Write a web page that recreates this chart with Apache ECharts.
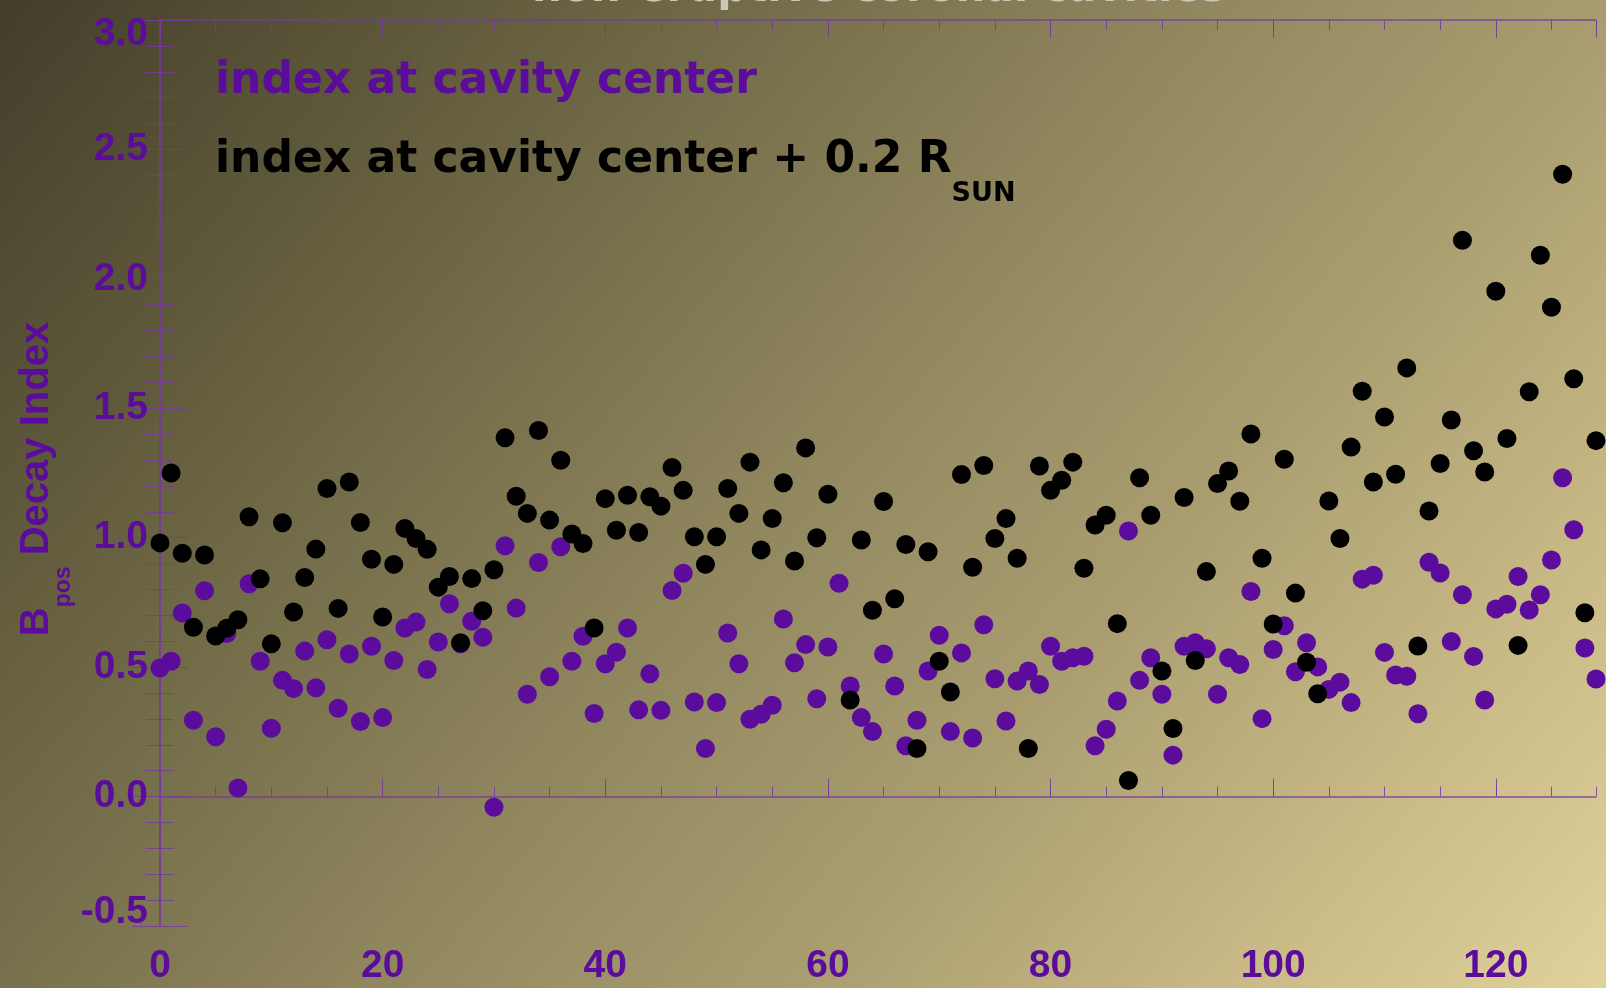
<!DOCTYPE html>
<html>
<head>
<meta charset="utf-8">
<script src="https://cdn.jsdelivr.net/npm/echarts@6/dist/echarts.min.js"></script>
<style>
html,body{margin:0;padding:0;width:1606px;height:988px;overflow:hidden;}
#c{width:1606px;height:988px;background:linear-gradient(130deg,#433e2a 0%,#5d573a 17%,#77704c 33.5%,#928860 50%,#a99d70 66.5%,#c6b784 83%,#e0d29b 100%);}
</style>
</head>
<body>
<div id="c"></div>
<script>
// ---- data ----
const titleText = 'non-eruptive coronal cavities';
const seriesNames = ['index at cavity center', 'index at cavity center + 0.2 RSUN'];
const xTickLabels = ['0', '20', '40', '60', '80', '100', '120'];

// value at x = 0, 1, 2, ... 129
const centerIndex = [
  0.497,0.523,0.709,0.295,0.795,0.231,0.63,0.033,0.822,0.523,
  0.264,0.449,0.417,0.562,0.42,0.606,0.341,0.551,0.29,0.581,
  0.305,0.526,0.651,0.674,0.491,0.597,0.745,0.59,0.677,0.615,
  -0.041,0.969,0.728,0.395,0.904,0.463,0.965,0.523,0.619,0.321,
  0.513,0.558,0.651,0.335,0.474,0.333,0.796,0.863,0.365,0.186,
  0.363,0.632,0.513,0.299,0.318,0.353,0.686,0.517,0.587,0.378,
  0.578,0.824,0.427,0.305,0.251,0.551,0.427,0.196,0.295,0.485,
  0.623,0.251,0.555,0.226,0.664,0.455,0.292,0.446,0.485,0.433,
  0.581,0.523,0.536,0.542,0.196,0.26,0.369,1.026,0.449,0.536,
  0.395,0.16,0.581,0.594,0.571,0.395,0.536,0.51,0.792,0.301,
  0.568,0.66,0.482,0.594,0.501,0.414,0.442,0.363,0.84,0.855,
  0.557,0.47,0.465,0.32,0.905,0.864,0.599,0.78,0.541,0.373,
  0.725,0.743,0.85,0.721,0.78,0.914,1.232,1.031,0.574,0.454
];
const offsetIndex = [
  0.98,1.25,0.94,0.654,0.933,0.62,0.65,0.683,1.081,0.841,
  0.59,1.058,0.713,0.846,0.956,1.19,0.727,1.215,1.059,0.917,
  0.694,0.897,1.036,0.997,0.955,0.809,0.85,0.594,0.842,0.718,
  0.876,1.386,1.16,1.094,1.414,1.068,1.299,1.014,0.978,0.651,
  1.151,1.029,1.164,1.02,1.158,1.122,1.271,1.183,1.004,0.897,
  1.004,1.19,1.094,1.292,0.953,1.074,1.212,0.91,1.347,1.0,
  1.168,null,0.373,0.991,0.72,1.14,0.764,0.974,0.186,0.946,
  0.523,0.404,1.244,0.886,1.279,0.997,1.074,0.921,0.186,1.277,
  1.183,1.222,1.292,0.882,1.049,1.087,0.668,0.062,1.232,1.087,
  0.485,0.263,1.155,0.526,0.869,1.209,1.258,1.141,1.401,0.921,
  0.667,1.303,0.786,0.519,0.397,1.142,0.997,1.35,1.566,1.215,
  1.466,1.245,1.656,0.582,1.103,1.287,1.455,2.149,1.336,1.254,
  1.952,1.383,0.584,1.564,2.091,1.89,2.404,1.614,0.71,1.375
];

// ---- chart ----
const PURPLE = '#5b0c9c';
const AXIS = 'rgba(118,58,160,0.85)';

function toPoints(arr) {
  const out = [];
  arr.forEach(function (v, i) { if (v !== null) out.push([i, v]); });
  return out;
}

const labelFont = {
  fontFamily: 'Liberation Sans', fontWeight: 'bold', fontSize: 39, color: PURPLE
};

const chart = echarts.init(document.getElementById('c'), null, { renderer: 'canvas' });

const option = {
  backgroundColor: 'transparent',
  animation: false,
  title: {
    text: titleText,
    left: 527,
    top: -36,
    textStyle: { fontFamily: 'DejaVu Sans', fontWeight: 'bold', fontSize: 42, color: '#cdc8b6' }
  },
  grid: { left: 160, right: 10, top: 20, bottom: 62, containLabel: false },
  legend: {
    orient: 'vertical',
    left: 210,
    top: 60,
    padding: 0,
    itemGap: 35,
    icon: 'none',
    itemWidth: 0,
    itemHeight: 10,
    selectedMode: false,
    data: [
      { name: seriesNames[0], textStyle: { color: PURPLE } },
      { name: seriesNames[1], textStyle: { color: '#000000' } }
    ],
    formatter: function (name) {
      if (name === seriesNames[1]) return '{m|index at cavity center + 0.2 R}{s|SUN}';
      return '{m|' + name + '}';
    },
    textStyle: {
      fontFamily: 'DejaVu Sans', fontWeight: 'bold', fontSize: 44,
      rich: {
        m: { fontFamily: 'DejaVu Sans', fontWeight: 'bold', fontSize: 44, lineHeight: 50, verticalAlign: 'top' },
        s: { fontFamily: 'DejaVu Sans', fontWeight: 'bold', fontSize: 27, lineHeight: 68, verticalAlign: 'bottom' }
      }
    }
  },
  xAxis: [
    {
      type: 'value', min: 0, max: 129, interval: 20, position: 'bottom',
      axisLine: { show: true, lineStyle: { color: AXIS, width: 1.5 } },
      axisTick: { show: true, inside: true, length: 18, lineStyle: { color: AXIS, width: 1 } },
      axisLabel: Object.assign({}, labelFont, {
        margin: 21, showMaxLabel: false,
        formatter: function (v) { const k = Math.round(v / 20); return xTickLabels[k] !== undefined ? xTickLabels[k] : ''; }
      }),
      splitLine: { show: false }
    },
    {
      type: 'value', min: 0, max: 129, interval: 5, position: 'bottom',
      axisLine: { show: false },
      axisTick: { show: true, inside: true, length: 10, lineStyle: { color: AXIS, width: 1 } },
      axisLabel: { show: false }, splitLine: { show: false }
    },
    {
      type: 'value', min: 0, max: 129, interval: 20, position: 'top',
      axisLine: { show: true, lineStyle: { color: AXIS, width: 1.5 } },
      axisTick: { show: true, inside: true, length: 18, lineStyle: { color: AXIS, width: 1 } },
      axisLabel: { show: false }, splitLine: { show: false }
    },
    {
      type: 'value', min: 0, max: 129, interval: 5, position: 'top',
      axisLine: { show: false },
      axisTick: { show: true, inside: true, length: 10, lineStyle: { color: AXIS, width: 1 } },
      axisLabel: { show: false }, splitLine: { show: false }
    }
  ],
  yAxis: [
    {
      type: 'value', min: -0.5, max: 3.0, interval: 0.5, position: 'left',
      name: '{m|B}{s|pos}{m| Decay Index}',
      nameLocation: 'middle',
      nameGap: 85,
      nameMoveOverlap: false,
      nameTextStyle: {
        color: PURPLE, fontFamily: 'Liberation Sans', fontWeight: 'bold', fontSize: 40,
        padding: [0, 12, 0, 0],
        rich: {
          m: { fontFamily: 'Liberation Sans', fontWeight: 'bold', fontSize: 40, lineHeight: 46, verticalAlign: 'top' },
          s: { fontFamily: 'Liberation Sans', fontWeight: 'bold', fontSize: 23, lineHeight: 58, verticalAlign: 'bottom' }
        }
      },
      axisLine: { show: true, lineStyle: { color: AXIS, width: 1.5 } },
      axisTick: { show: true, inside: true, length: 28, lineStyle: { color: AXIS, width: 1 } },
      minorTick: { show: true, splitNumber: 5, length: 14, lineStyle: { color: AXIS, width: 1 } },
      axisLabel: Object.assign({}, labelFont, {
        margin: 12,
        lineHeight: 28,
        formatter: function (v) { return v.toFixed(1); },
        verticalAlignMinLabel: 'bottom',
        verticalAlignMaxLabel: 'top'
      }),
      splitLine: { show: false },
      minorSplitLine: { show: false }
    },
    {
      type: 'value', min: -0.5, max: 3.0, interval: 0.5, position: 'right',
      axisLine: { show: true, lineStyle: { color: AXIS, width: 1.5 } },
      axisTick: { show: true, inside: true, length: 28, lineStyle: { color: AXIS, width: 1 } },
      minorTick: { show: true, splitNumber: 5, length: 14, lineStyle: { color: AXIS, width: 1 } },
      axisLabel: { show: false },
      splitLine: { show: false },
      minorSplitLine: { show: false }
    }
  ],
  series: [
    {
      name: seriesNames[0], type: 'scatter', xAxisIndex: 0, yAxisIndex: 0,
      data: toPoints(centerIndex), symbol: 'circle', symbolSize: 19, clip: true,
      itemStyle: { color: PURPLE, opacity: 1 }
    },
    {
      name: seriesNames[1], type: 'scatter', xAxisIndex: 0, yAxisIndex: 0,
      data: toPoints(offsetIndex), symbol: 'circle', symbolSize: 19, clip: true,
      itemStyle: { color: '#000000', opacity: 1 }
    }
  ]
};
chart.setOption(option);
</script>
</body>
</html>
